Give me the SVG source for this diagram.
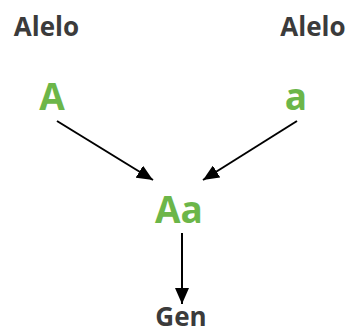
<svg xmlns="http://www.w3.org/2000/svg" width="350" height="335" viewBox="0 0 350 335">
<style>
.lbl{font-family:"Open Sans","Noto Sans",sans-serif;font-weight:700;font-size:26px;fill:#3b3b3b;text-anchor:middle}
.al{font-family:"Open Sans","Noto Sans",sans-serif;font-weight:700;font-size:37px;fill:#6cb649;text-anchor:middle}
</style>
<defs><marker id="ah" viewBox="0 0 16 14" refX="16" refY="7" markerWidth="16" markerHeight="14" markerUnits="userSpaceOnUse" orient="auto"><path d="M0,0 L16,7 L0,14 z" fill="#000"/></marker></defs>
<g id="alelo-left"><text class="lbl" x="46.5" y="36">Alelo</text></g>
<g id="alelo-right"><text class="lbl" x="313" y="36">Alelo</text></g>
<g id="allele-A"><text class="al" x="52" y="110">A</text></g>
<g id="allele-a"><text class="al" x="296" y="110">a</text></g>
<g id="genotype-Aa"><text class="al" x="179" y="223">Aa</text></g>
<g id="gen"><text class="lbl" x="181" y="326">Gen</text></g>
<g id="connectors">
<line x1="57" y1="121" x2="153" y2="180" stroke="#000" stroke-width="2" marker-end="url(#ah)"/>
<line x1="297" y1="121" x2="203" y2="180" stroke="#000" stroke-width="2" marker-end="url(#ah)"/>
<line x1="182" y1="233" x2="182" y2="304" stroke="#000" stroke-width="2" marker-end="url(#ah)"/>
</g>
</svg>
